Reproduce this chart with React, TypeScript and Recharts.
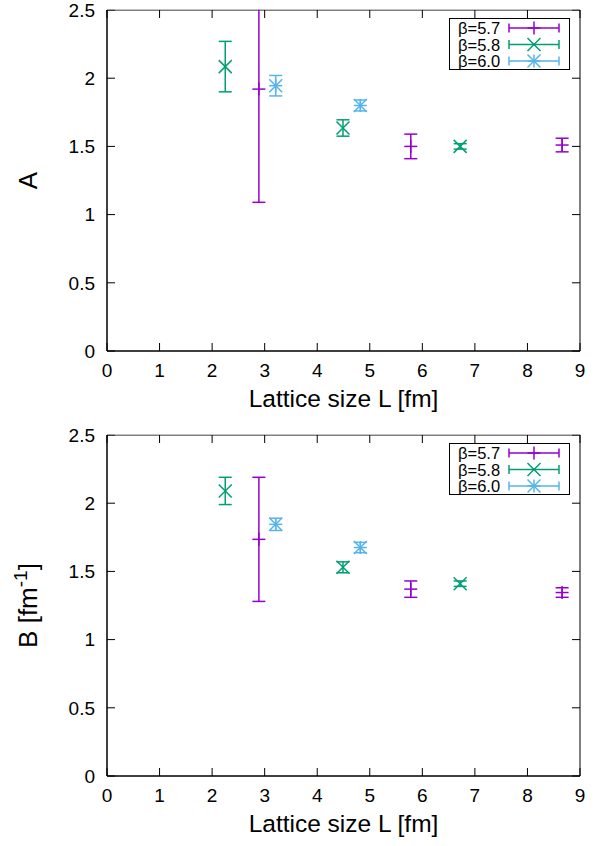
import React from 'react';
import { ScatterChart, Scatter, XAxis, YAxis, ErrorBar, Legend, ReferenceArea } from 'recharts';

// gnuplot default palette
const PURPLE = '#9400d3';
const GREEN = '#009e73';
const BLUE = '#56b4e9';

const betaLabels = ['β=5.7', 'β=5.8', 'β=6.0'];

// lattice sizes L [fm] for each beta
const sizes57 = [2.89, 5.78, 8.66];
const sizes58 = [2.25, 4.49, 6.72];
const sizes60 = [3.21, 4.82];

// fit parameter A
const a57 = [1.92, 1.5, 1.51];
const a57Err = [0.83, 0.09, 0.05];
const a58 = [2.085, 1.635, 1.5];
const a58Err = [0.185, 0.06, 0.02];
const a60 = [1.945, 1.8];
const a60Err = [0.075, 0.04];

// fit parameter B [fm^-1]
const b57 = [1.735, 1.37, 1.345];
const b57Err = [0.455, 0.06, 0.035];
const b58 = [2.09, 1.53, 1.41];
const b58Err = [0.1, 0.04, 0.02];
const b60 = [1.845, 1.675];
const b60Err = [0.045, 0.038];

const xTicks = [0, 1, 2, 3, 4, 5, 6, 7, 8, 9];
const yTicks = [0, 0.5, 1, 1.5, 2, 2.5];

const rows = (xs: number[], vs: number[], es: number[]) =>
  xs.map((L, i) => ({ L, v: vs[i], err: es[i] }));

// plot frame inside each chart
const PLOT_TOP = 10;
const PLOT_BOTTOM = 351;
const PLOT_LEFT = 107;
const PLOT_RIGHT = 580;
const TICK_LEN = 8;
const TICK_GAP = 12;

const R = 6.5;
const LW = 1.5;

type MarkProps = { cx?: number; cy?: number; color: string };

function PlusMark({ cx = 0, cy = 0, color }: MarkProps) {
  return (
    <g stroke={color} strokeWidth={LW}>
      <line x1={cx - R} y1={cy} x2={cx + R} y2={cy} />
      <line x1={cx} y1={cy - R} x2={cx} y2={cy + R} />
    </g>
  );
}

function CrossMark({ cx = 0, cy = 0, color }: MarkProps) {
  return (
    <g stroke={color} strokeWidth={LW}>
      <line x1={cx - R} y1={cy - R} x2={cx + R} y2={cy + R} />
      <line x1={cx - R} y1={cy + R} x2={cx + R} y2={cy - R} />
    </g>
  );
}

function StarMark({ cx = 0, cy = 0, color }: MarkProps) {
  return (
    <g stroke={color} strokeWidth={LW}>
      <line x1={cx - R} y1={cy} x2={cx + R} y2={cy} />
      <line x1={cx} y1={cy - R} x2={cx} y2={cy + R} />
      <line x1={cx - R} y1={cy - R} x2={cx + R} y2={cy + R} />
      <line x1={cx - R} y1={cy + R} x2={cx + R} y2={cy - R} />
    </g>
  );
}

const marks = [PlusMark, CrossMark, StarMark];
const colors = [PURPLE, GREEN, BLUE];

// bottom axis tick: label plus inward ticks on the bottom and top borders
function XTick(props: any) {
  const { x, y, payload } = props;
  const axisY = y - TICK_GAP;
  return (
    <g>
      <line x1={x} y1={axisY} x2={x} y2={axisY - TICK_LEN} stroke="#000" />
      <line x1={x} y1={PLOT_TOP} x2={x} y2={PLOT_TOP + TICK_LEN} stroke="#000" />
      <text x={x} y={y} dy="0.75em" textAnchor="middle" fontSize={19} fill="#000">
        {payload.value}
      </text>
    </g>
  );
}

// left axis tick: label plus inward ticks on the left and right borders
function YTick(props: any) {
  const { x, y, payload } = props;
  const axisX = x + TICK_GAP;
  return (
    <g>
      <line x1={axisX} y1={y} x2={axisX + TICK_LEN} y2={y} stroke="#000" />
      <line x1={PLOT_RIGHT} y1={y} x2={PLOT_RIGHT - TICK_LEN} y2={y} stroke="#000" />
      <text x={x} y={y} dy="0.36em" textAnchor="end" fontSize={19} fill="#000">
        {payload.value}
      </text>
    </g>
  );
}

// overlay: hides error bars running past the top border, and draws the key box
function LegendOverlay() {
  return (
    <svg width={606} height={72} style={{ display: 'block' }}>
      <rect x={PLOT_LEFT - 1} y={0} width={PLOT_RIGHT - PLOT_LEFT + 2} height={PLOT_TOP - 0.5} fill="#fff" />
      <g transform="translate(449 18)">
        <rect x={0.5} y={0.5} width={120} height={51} fill="#fff" stroke="#000" />
        {betaLabels.map((label, i) => {
          const cy = 10 + i * 16.5;
          const Mark = marks[i];
          const c = colors[i];
          return (
            <g key={label}>
              <text x={9} y={cy + 6} fontSize={16.5} fill="#000">
                {label}
              </text>
              <g stroke={c} strokeWidth={LW}>
                <line x1={60} y1={cy} x2={110} y2={cy} />
                <line x1={60} y1={cy - 4.5} x2={60} y2={cy + 4.5} />
                <line x1={110} y1={cy - 4.5} x2={110} y2={cy + 4.5} />
              </g>
              <Mark cx={85} cy={cy} color={c} />
            </g>
          );
        })}
      </g>
    </svg>
  );
}

function XTitle(props: any) {
  const vb = props.viewBox || { x: PLOT_LEFT, y: PLOT_BOTTOM, width: PLOT_RIGHT - PLOT_LEFT };
  return (
    <text x={vb.x + vb.width / 2} y={vb.y + 56} textAnchor="middle" fontSize={24.5} fill="#000">
      Lattice size L [fm]
    </text>
  );
}

function YTitle(props: any) {
  const vb = props.viewBox || { x: 0, y: PLOT_TOP, height: PLOT_BOTTOM - PLOT_TOP };
  const x = vb.x + 37;
  const y = vb.y + vb.height / 2;
  return (
    <text x={x} y={y} transform={`rotate(-90 ${x} ${y})`} textAnchor="middle" fontSize={26} fill="#000">
      {props.unit ? (
        <>
          <tspan>B [fm</tspan>
          <tspan dy={-10} fontSize={19}>-1</tspan>
          <tspan dy={10}>]</tspan>
        </>
      ) : (
        props.name
      )}
    </text>
  );
}

type PanelProps = {
  top: number;
  height: number;
  name: string;
  unit?: boolean;
  series: { L: number; v: number; err: number }[][];
};

function Panel({ top, height, name, unit, series }: PanelProps) {
  return (
    <div style={{ position: 'absolute', left: 0, top }}>
      <ScatterChart
        width={606}
        height={height}
        margin={{ top: PLOT_TOP, right: 606 - PLOT_RIGHT, bottom: 0, left: 0 }}
      >
        <XAxis
          dataKey="L"
          type="number"
          domain={[0, 9]}
          ticks={xTicks}
          interval={0}
          allowDataOverflow
          height={height - PLOT_BOTTOM}
          stroke="#000"
          tickSize={0}
          tickMargin={TICK_GAP}
          tick={<XTick />}
          label={<XTitle />}
        />
        <YAxis
          dataKey="v"
          type="number"
          domain={[0, 2.5]}
          ticks={yTicks}
          interval={0}
          allowDataOverflow
          width={PLOT_LEFT}
          stroke="#000"
          tickSize={0}
          tickMargin={TICK_GAP}
          tick={<YTick />}
          label={<YTitle name={name} unit={unit} />}
        />
        <ReferenceArea
          x1={0}
          x2={9}
          y1={0}
          y2={2.5}
          fill="none"
          stroke="#000"
          strokeWidth={1}
          ifOverflow="visible"
        />
        {series.map((data, i) => {
          const Mark = marks[i];
          const c = colors[i];
          return (
            <Scatter
              key={betaLabels[i]}
              name={betaLabels[i]}
              data={data}
              fill={c}
              isAnimationActive={false}
              shape={(p: any) => <Mark cx={p.cx} cy={p.cy} color={c} />}
            >
              <ErrorBar dataKey="err" direction="y" width={6.5} stroke={c} strokeWidth={LW} />
            </Scatter>
          );
        })}
        <Legend
          layout="horizontal"
          verticalAlign="middle"
          align="center"
          content={() => <LegendOverlay />}
          wrapperStyle={{ left: 0, top: 0, width: 606, height: 72, pointerEvents: 'none' }}
        />
      </ScatterChart>
    </div>
  );
}

export default function App() {
  const seriesA = [rows(sizes57, a57, a57Err), rows(sizes58, a58, a58Err), rows(sizes60, a60, a60Err)];
  const seriesB = [rows(sizes57, b57, b57Err), rows(sizes58, b58, b58Err), rows(sizes60, b60, b60Err)];
  return (
    <div
      style={{
        position: 'absolute',
        left: 0,
        top: 0,
        width: 606,
        height: 846,
        background: '#fff',
        fontFamily: '"Liberation Sans", Arial, Helvetica, sans-serif',
        overflow: 'hidden',
      }}
    >
      <Panel top={0} height={423} name="A" series={seriesA} />
      <Panel top={425} height={421} name="B" unit series={seriesB} />
    </div>
  );
}
